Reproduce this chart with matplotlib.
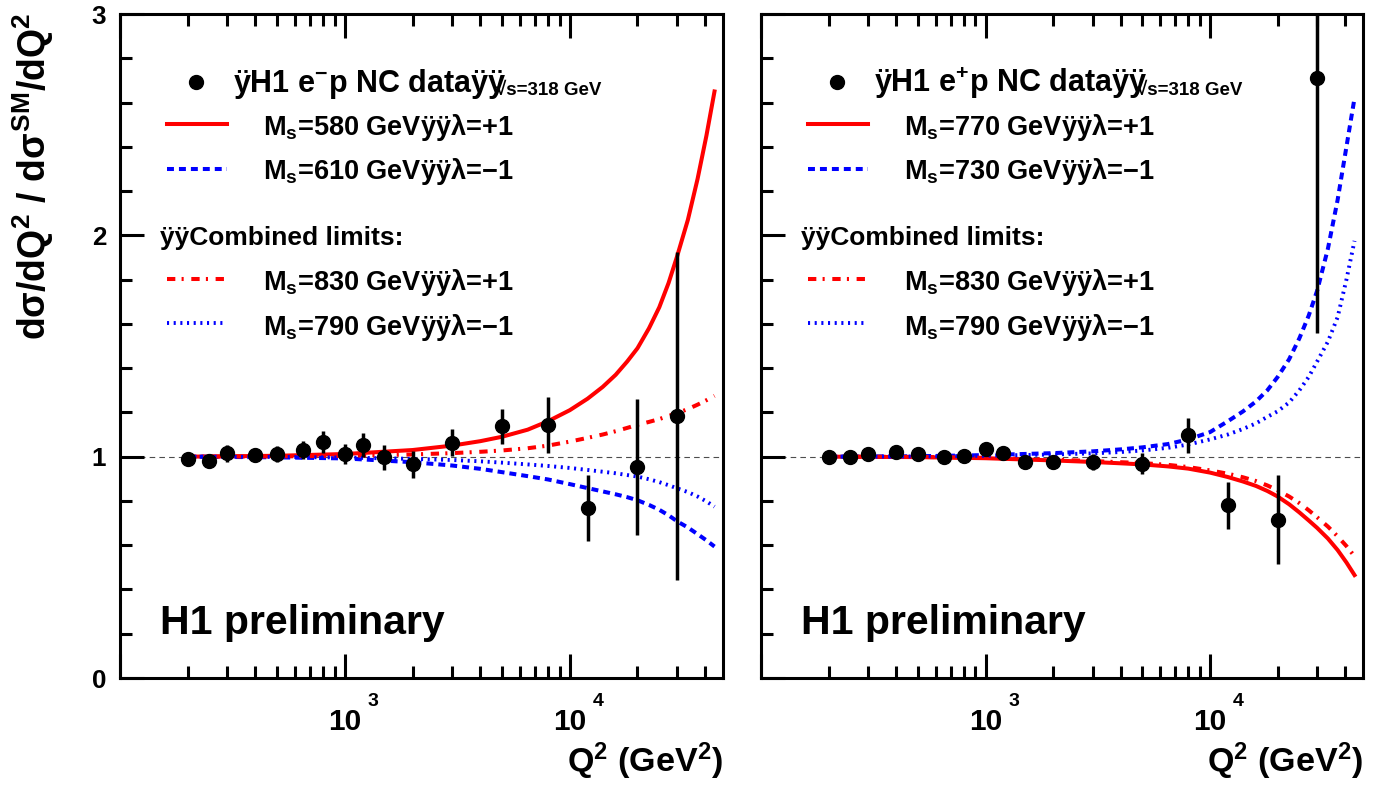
import matplotlib
matplotlib.use("Agg")
import matplotlib.pyplot as plt
from matplotlib.ticker import MultipleLocator, LogLocator, NullFormatter

# Q^2 Bins der Messpunkte (GeV^2)
q2Points = [200, 250, 300, 400, 500, 650, 800, 1000, 1200, 1500,
            2000, 3000, 5000, 8000, 12000, 20000, 30000]

# e-p Daten (links): Verhaeltnis zum SM und Fehler
ratioEm = [0.991, 0.982, 1.015, 1.006, 1.012, 1.030, 1.065, 1.012, 1.053, 0.997,
           0.965, 1.063, 1.138, 1.143, 0.767, 0.952, 1.185]
errEm = [0.020, 0.020, 0.037, 0.020, 0.037, 0.040, 0.049, 0.047, 0.053, 0.056,
         0.060, 0.062, 0.079, 0.125, 0.149, 0.307, 0.740]

# e+p Daten (rechts)
ratioEp = [1.000, 0.997, 1.011, 1.020, 1.011, 1.000, 1.005, 1.033, 1.015, 0.974,
           0.974, 0.976, 0.968, 1.096, 0.780, 0.716, 2.710]
errEp = [0.020, 0.020, 0.020, 0.020, 0.020, 0.020, 0.025, 0.030, 0.030, 0.030,
         0.030, 0.035, 0.048, 0.080, 0.107, 0.203, 1.150]

# Stuetzstellen der Kontaktwechselwirkungs-Kurven
q2Curve = [200, 500, 1000, 2000, 3000, 4000, 5000, 6500, 8000, 10000, 12000,
           14000, 16000, 18000, 20000, 22500, 25000, 27500, 30000, 33500,
           37000, 40500, 44000]

# links: e-p
emMs580Plus = [1.000, 1.004, 1.012, 1.030, 1.050, 1.070, 1.090, 1.122, 1.160, 1.210,
               1.262, 1.315, 1.370, 1.430, 1.490, 1.580, 1.675, 1.785, 1.905, 2.070,
               2.255, 2.450, 2.650]
emMs610Minus = [1.000, 0.997, 0.992, 0.975, 0.960, 0.945, 0.930, 0.912, 0.897, 0.876,
                0.858, 0.843, 0.830, 0.817, 0.803, 0.782, 0.760, 0.735, 0.708, 0.680,
                0.650, 0.622, 0.594]
emMs830Plus = [1.000, 1.001, 1.004, 1.010, 1.016, 1.022, 1.028, 1.038, 1.050, 1.068,
               1.085, 1.100, 1.115, 1.130, 1.144, 1.157, 1.170, 1.184, 1.197, 1.215,
               1.235, 1.255, 1.275]
emMs790Minus = [1.000, 0.999, 0.996, 0.990, 0.985, 0.979, 0.973, 0.965, 0.958, 0.949,
                0.940, 0.932, 0.925, 0.917, 0.910, 0.898, 0.885, 0.871, 0.857, 0.840,
                0.820, 0.798, 0.774]

# rechts: e+p
epMs770Plus = [1.000, 0.998, 0.993, 0.983, 0.976, 0.970, 0.965, 0.956, 0.946, 0.928,
               0.908, 0.888, 0.868, 0.845, 0.820, 0.785, 0.748, 0.712, 0.678, 0.630,
               0.578, 0.522, 0.465]
epMs730Minus = [1.000, 1.002, 1.007, 1.016, 1.024, 1.033, 1.042, 1.057, 1.078, 1.111,
                1.160, 1.204, 1.249, 1.300, 1.360, 1.440, 1.535, 1.637, 1.750, 1.940,
                2.160, 2.400, 2.620]
epMs830Plus = [1.000, 0.999, 0.995, 0.987, 0.980, 0.975, 0.971, 0.963, 0.953, 0.938,
               0.923, 0.907, 0.890, 0.870, 0.848, 0.820, 0.790, 0.758, 0.726, 0.684,
               0.640, 0.596, 0.550]
epMs790Minus = [1.000, 1.001, 1.004, 1.010, 1.015, 1.021, 1.028, 1.040, 1.055, 1.078,
                1.100, 1.125, 1.150, 1.180, 1.205, 1.245, 1.300, 1.360, 1.430, 1.520,
                1.630, 1.800, 1.975]

# Legendentexte
emHeader = "ÿH1 e$^{-}$p NC dataÿÿ"
epHeader = "ÿH1 e$^{+}$p NC dataÿÿ"
sqrtsText = "√s=318 GeV"
emLabels = ["M$_{\\mathrm{s}}$=580 GeVÿÿ$\\lambda$=+1",
            "M$_{\\mathrm{s}}$=610 GeVÿÿ$\\lambda$=−1"]
epLabels = ["M$_{\\mathrm{s}}$=770 GeVÿÿ$\\lambda$=+1",
            "M$_{\\mathrm{s}}$=730 GeVÿÿ$\\lambda$=−1"]
combinedHeader = "ÿÿCombined limits:"
combinedLabels = ["M$_{\\mathrm{s}}$=830 GeVÿÿ$\\lambda$=+1",
                  "M$_{\\mathrm{s}}$=790 GeVÿÿ$\\lambda$=−1"]

plt.rcParams["font.family"] = ["Liberation Sans", "DejaVu Sans"]
plt.rcParams["font.weight"] = "bold"
plt.rcParams["mathtext.fontset"] = "custom"
plt.rcParams["mathtext.rm"] = "Liberation Sans:bold"
plt.rcParams["mathtext.bf"] = "Liberation Sans:bold"
plt.rcParams["mathtext.sf"] = "Liberation Sans:bold"
plt.rcParams["mathtext.it"] = "Liberation Sans"
plt.rcParams["lines.scale_dashes"] = False

RED = "#ff0000"
BLUE = "#0000ff"
styleSolid = dict(color=RED, lw=2.9, ls="-")
styleDashed = dict(color=BLUE, lw=2.9, ls=(0, (5, 3.6)))
styleDashDot = dict(color=RED, lw=2.9, ls=(0, (6, 4.5, 1.5, 5.5)))
styleDotted = dict(color=BLUE, lw=2.8, ls=(0, (1.5, 3.3)))


def setupAxes(ax, showYLabels):
    ax.set_xscale("log")
    ax.set_xlim(100, 48000)
    ax.set_ylim(0, 3)
    ax.xaxis.set_major_locator(LogLocator(base=10))
    ax.xaxis.set_minor_locator(LogLocator(base=10, subs=range(2, 10)))
    ax.xaxis.set_major_formatter(NullFormatter())
    ax.xaxis.set_minor_formatter(NullFormatter())
    ax.yaxis.set_major_locator(MultipleLocator(1))
    ax.yaxis.set_minor_locator(MultipleLocator(0.2))
    ax.tick_params(which="both", direction="in", top=True, right=False, width=2.2)
    ax.tick_params(which="major", length=17)
    ax.tick_params(which="minor", length=8.6)
    ax.tick_params(axis="y", labelsize=18.7, pad=10, labelleft=showYLabels)
    for spine in ax.spines.values():
        spine.set_linewidth(2.2)

    # Beschriftung 10^3, 10^4 im ROOT-Stil
    for q, exp in [(1000, "3"), (10000, "4")]:
        ax.annotate("10", xy=(q, 0), xycoords=("data", "axes fraction"),
                    xytext=(0, -52), textcoords="offset pixels",
                    ha="center", va="baseline", fontsize=21.5)
        ax.annotate(exp, xy=(q, 0), xycoords=("data", "axes fraction"),
                    xytext=(23, -28), textcoords="offset pixels",
                    ha="left", va="baseline", fontsize=14)

    ax.annotate(r"Q$^{2}$ (GeV$^{2}$)", xy=(1, 0), xycoords="axes fraction",
                xytext=(0, -94), textcoords="offset pixels",
                ha="right", va="baseline", fontsize=24.5)
    ax.text(0.067, 0.066, "H1 preliminary", transform=ax.transAxes,
            fontsize=29.5, va="baseline")


def drawPanel(ax, ratio, err, curves, header, labels):
    ax.axhline(1.0, color="0.3", lw=0.8, ls=(0, (4, 3)), zorder=1)
    for values, style in curves:
        ax.plot(q2Curve, values, zorder=2, **style)
    ax.errorbar(q2Points, ratio, yerr=err, fmt="o", color="k", ms=10,
                elinewidth=2.5, capsize=0, zorder=3)

    # Legende von Hand, wie im ROOT-Original
    ax.plot([0.126], [0.898], "o", color="k", ms=10, transform=ax.transAxes)
    headText = ax.text(0.187, 0.8825, header, transform=ax.transAxes,
                       fontsize=22, va="baseline")
    ax.annotate(sqrtsText, xy=(1, 0), xycoords=headText,
                xytext=(-10, 6.5), textcoords="offset pixels",
                ha="left", va="baseline", fontsize=13.5)

    rows = [(0.834, 0.8178, curves[0][1], labels[0]),
            (0.767, 0.751, curves[1][1], labels[1]),
            (0.601, 0.584, curves[2][1], combinedLabels[0]),
            (0.535, 0.5166, curves[3][1], combinedLabels[1])]
    for lineY, textY, style, label in rows:
        ax.plot([0.078, 0.177], [lineY, lineY], transform=ax.transAxes, **style)
        ax.text(0.237, textY, label, transform=ax.transAxes,
                fontsize=19.5, va="baseline")
    ax.text(0.066, 0.652, combinedHeader, transform=ax.transAxes,
            fontsize=19, va="baseline")


def main():
    fig = plt.figure(figsize=(13.8, 7.89), dpi=100)
    axLeft = fig.add_axes([120 / 1380, 111 / 789, 603 / 1380, 664 / 789])
    axRight = fig.add_axes([761 / 1380, 111 / 789, 602 / 1380, 664 / 789])

    setupAxes(axLeft, True)
    setupAxes(axRight, False)

    drawPanel(axLeft, ratioEm, errEm,
              [(emMs580Plus, styleSolid), (emMs610Minus, styleDashed),
               (emMs830Plus, styleDashDot), (emMs790Minus, styleDotted)],
              emHeader, emLabels)
    drawPanel(axRight, ratioEp, errEp,
              [(epMs770Plus, styleSolid), (epMs730Minus, styleDashed),
               (epMs830Plus, styleDashDot), (epMs790Minus, styleDotted)],
              epHeader, epLabels)

    fig.text(0.024, 0.9835, r"d$\sigma$/dQ$^{2}$ / d$\sigma^{\mathrm{SM}}$/dQ$^{2}$",
             rotation=90, ha="center", va="top", fontsize=27)

    fig.savefig("out.png", dpi=100)


if __name__ == "__main__":
    main()
